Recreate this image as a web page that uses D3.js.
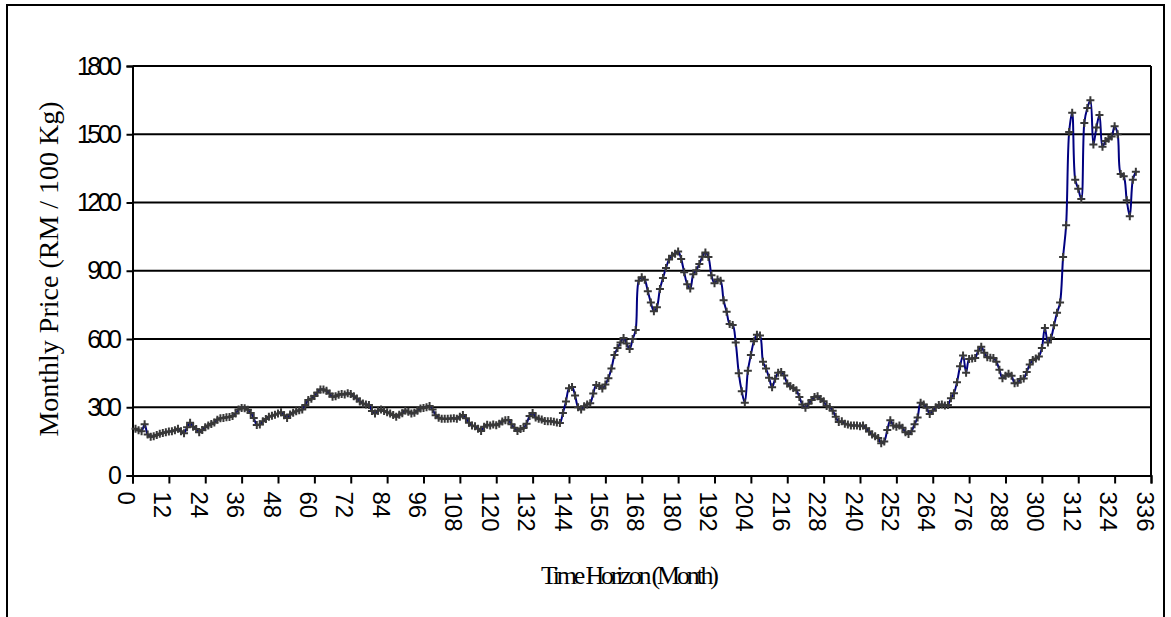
<!DOCTYPE html>
<html>
<head>
<meta charset="utf-8">
<script src="https://cdn.jsdelivr.net/npm/d3@7"></script>
<style>
  html, body { margin: 0; padding: 0; background: #fff; }
  svg { display: block; }
</style>
</head>
<body>
<svg id="chart" width="1171" height="617"></svg>
<script>
// Monthly price (RM / 100 Kg), months 1..331
const prices = [
  205,199,195,225,180,170,173,178,183,187,
  190,193,195,199,205,195,186,212,232,214,
  204,190,200,212,220,226,233,245,252,253,
  256,257,262,272,290,297,296,289,275,253,
  222,224,238,248,258,263,267,272,278,265,
  253,268,276,282,287,290,310,332,337,350,
  365,378,378,372,360,346,348,355,358,356,
  362,358,348,338,325,317,312,310,284,273,
  285,290,284,278,272,266,258,267,274,286,
  280,273,276,285,295,297,300,306,290,265,
  254,250,249,249,251,252,250,258,266,252,
  232,220,216,205,196,214,223,220,224,221,
  228,237,243,244,225,210,196,204,209,228,
  262,275,255,249,246,240,239,239,236,233,
  231,275,325,383,389,352,300,290,304,312,
  318,360,398,393,382,400,428,470,530,560,
  585,604,580,556,600,640,856,871,860,810,
  760,722,740,820,868,912,950,966,975,985,
  952,893,841,822,885,902,930,962,980,960,
  880,845,862,856,770,720,666,662,585,450,
  370,320,460,530,590,619,615,500,470,430,
  388,425,452,455,440,404,392,385,375,345,
  312,298,315,332,345,348,336,326,305,301,
  285,258,235,238,228,224,220,220,220,217,
  220,208,193,180,172,165,142,150,200,243,
  220,214,220,210,190,182,195,225,255,320,
  312,298,270,285,300,310,312,308,310,340,
  362,410,480,528,452,512,514,517,548,566,
  540,520,518,517,500,465,428,438,447,438,
  405,408,424,426,455,488,508,514,523,560,
  648,585,605,660,715,760,960,1100,1510,1595,
  1300,1260,1215,1550,1615,1650,1455,1530,1585,1445,
  1470,1480,1490,1535,1500,1325,1315,1210,1140,1300,
  1335
];
const xTickValues = [0,12,24,36,48,60,72,84,96,108,120,132,144,156,168,180,192,204,216,228,240,252,264,276,288,300,312,324,336];
const yTickValues = [0,300,600,900,1200,1500,1800];
const xTitle = "Time Horizon (Month)";
const yTitle = "Monthly Price (RM / 100 Kg)";

const svg = d3.select("#chart");
const pLeft = 132.5, pRight = 1151, pTop = 66, pBottom = 475.5;

const x = d3.scaleLinear().domain([0, 336]).range([pLeft, pRight]);
const y = d3.scaleLinear().domain([0, 1800]).range([pBottom, pTop]);

// outer frame
svg.append("rect")
  .attr("x", 7).attr("y", 5).attr("width", 1157).attr("height", 700)
  .attr("fill", "none").attr("stroke", "#000").attr("stroke-width", 2);

// gridlines
svg.append("g")
  .selectAll("line").data(yTickValues.filter(v => v > 0)).join("line")
  .attr("x1", pLeft).attr("x2", pRight)
  .attr("y1", d => y(d)).attr("y2", d => y(d))
  .attr("stroke", "#000").attr("stroke-width", 2);

// right border of plot area
svg.append("line")
  .attr("x1", pRight).attr("x2", pRight).attr("y1", pTop).attr("y2", pBottom)
  .attr("stroke", "#000").attr("stroke-width", 2);

// y axis
const yAxis = svg.append("g")
  .attr("transform", `translate(${pLeft},0)`)
  .call(d3.axisLeft(y).tickValues(yTickValues).tickSize(6).tickPadding(8).tickFormat(d3.format("d")));
yAxis.select(".domain").attr("stroke", "#000").attr("stroke-width", 2);
yAxis.selectAll(".tick line").attr("stroke", "#000").attr("stroke-width", 2);
yAxis.selectAll(".tick text")
  .attr("font-family", "'Liberation Sans', Arial, sans-serif")
  .attr("font-size", 25)
  .attr("letter-spacing", "-3.5px")
  .attr("fill", "#000");

// x axis
const xAxis = svg.append("g")
  .attr("transform", `translate(0,${pBottom})`)
  .call(d3.axisBottom(x).tickValues(xTickValues).tickSize(8).tickFormat(d3.format("d")));
xAxis.select(".domain").attr("stroke", "#000").attr("stroke-width", 2);
xAxis.selectAll(".tick line").attr("stroke", "#000").attr("stroke-width", 2);
xAxis.selectAll(".tick text")
  .attr("font-family", "'Liberation Sans', Arial, sans-serif")
  .attr("font-size", 24)
  .attr("fill", "#000")
  .attr("text-anchor", "start")
  .attr("dy", null)
  .attr("y", 0)
  .attr("transform", "translate(-15,16) rotate(90)");

// line
const line = d3.line()
  .x((d, i) => x(i + 1))
  .y(d => y(d))
  .curve(d3.curveCatmullRom.alpha(0.5));

svg.append("path")
  .datum(prices)
  .attr("fill", "none")
  .attr("stroke", "#000080")
  .attr("stroke-width", 2)
  .attr("d", line);

// markers (+)
const mk = svg.append("g").attr("stroke", "#383838").attr("stroke-width", 2);
mk.selectAll("path").data(prices).join("path")
  .attr("d", (d, i) => {
    const cx = x(i + 1), cy = y(d), s = 4;
    return `M${cx - s},${cy}H${cx + s}M${cx},${cy - s}V${cy + s}`;
  });

// axis titles
svg.append("text")
  .attr("x", 630).attr("y", 584)
  .attr("text-anchor", "middle")
  .attr("font-family", "'Liberation Serif', 'Times New Roman', serif")
  .attr("font-size", 26)
  .attr("textLength", 178)
  .attr("lengthAdjust", "spacing")
  .text(xTitle);

svg.append("text")
  .attr("transform", "translate(58,269) rotate(-90)")
  .attr("text-anchor", "middle")
  .attr("font-family", "'Liberation Serif', 'Times New Roman', serif")
  .attr("font-size", 28)
  .text(yTitle);
</script>
</body>
</html>
